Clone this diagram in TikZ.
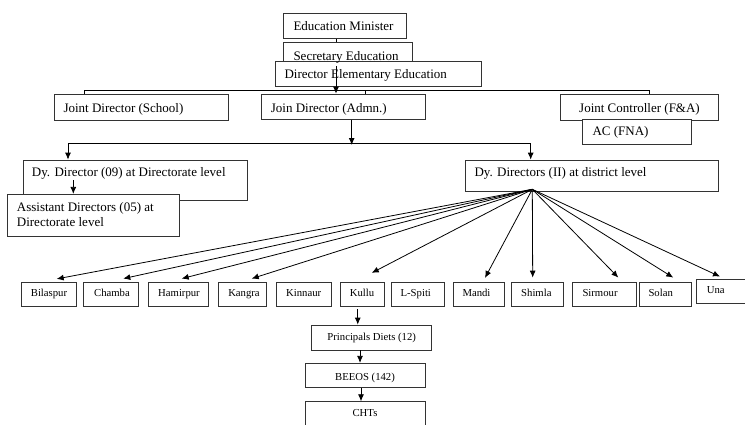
\documentclass[tikz,border=0pt]{standalone}
\usepackage{fontspec}
\setmainfont{Liberation Serif}
\usetikzlibrary{arrows.meta,fit,calc}
\newcommand\bx[5]{\coordinate (#1-a) at (#2,#3); \coordinate (#1-b) at (#4,#5); \node[box, fit=(#1-a)(#1-b)] (#1) {};}
\begin{document}
\begin{tikzpicture}[x=1pt,y=-1pt,
  box/.style={draw=black!80, line width=0.8pt, fill=white, inner sep=0pt},
  big/.style={font=\fontsize{13}{15.7}\selectfont, inner sep=0pt},
  small/.style={font=\fontsize{10.7}{13}\selectfont, inner sep=0pt},
  conn/.style={line width=0.8pt, black},
  arr/.style={conn, -{Latex[length=7pt,width=6pt]}}]
\clip (0,0) rectangle (745,424);
% top hierarchy
\bx{em}{283.3}{13.3}{406.7}{38.3}
\bx{sec}{283}{42.7}{412.7}{66}
\bx{ded}{275.7}{61.7}{481.7}{86}
\bx{jds}{54}{94}{228}{120}
\bx{jda}{261}{94}{425.7}{119.3}
\bx{jc}{560}{94.3}{718.3}{120}
\bx{ac}{582.3}{119.3}{691}{144}
\bx{ddl}{23}{160}{247}{200.7}
\bx{asd}{7.3}{194.3}{179.3}{236.7}
\bx{ddd}{465.7}{160}{718.3}{191.7}
% districts
\bx{bil}{21.7}{282.3}{76.7}{306.7}
\bx{cha}{83.3}{282.3}{138.3}{306.7}
\bx{ham}{148.3}{282.3}{208.3}{306.7}
\bx{kan}{218.3}{282.3}{266.7}{306.7}
\bx{kin}{276}{282.3}{331}{306.7}
\bx{kul}{340.7}{282.3}{384}{306.7}
\bx{lsp}{391.7}{282.3}{444.3}{306.7}
\bx{man}{453.3}{282.3}{504.3}{306.7}
\bx{shi}{511.7}{282.3}{563.3}{306.7}
\bx{sir}{572.7}{282.3}{636}{306.7}
\bx{sol}{639.3}{282.3}{691}{306.7}
\bx{una}{696}{279}{750}{303.3}
\bx{pri}{311}{325}{431.7}{350}
\bx{bee}{305.7}{363.3}{425.7}{387.7}
\bx{cht}{305.7}{401.7}{425.7}{432}
% texts
\node[big, anchor=base west] (em-t) at (293.3,30) {Education Minister};
\node[big, anchor=base west] (sec-t) at (293.3,60) {Secretary Education};
\node[big, anchor=base west] (ded-t) at (284.3,78.7) {Director Elementary Education};
\node[big, anchor=base west] (jds-t) at (63.3,112.3) {Joint Director (School)};
\node[big, anchor=base west] (jda-t) at (270.7,112.3) {Join Director (Admn.)};
\node[big, anchor=base west] (jc-t) at (579,112.3) {Joint Controller (F\&A)};
\node[big, anchor=base west] (ac-t) at (592.3,135) {AC (FNA)};
\node[big, anchor=base west] (ddl-t) at (31.7,176.7) {Dy. Director (09) at Directorate level};
\node[big, anchor=base west] (asd-t1) at (16.7,211) {Assistant Directors (05) at};
\node[big, anchor=base west] (asd-t2) at (16.7,226.7) {Directorate level};
\node[big, anchor=base west] (ddd-t) at (474.3,176.5) {Dy. Directors (II) at district level};
\node[small, anchor=base] (bil-t) at (49,296.7) {Bilaspur};
\node[small, anchor=base] (cha-t) at (112,296.7) {Chamba};
\node[small, anchor=base] (ham-t) at (179,296.7) {Hamirpur};
\node[small, anchor=base] (kan-t) at (244,296.7) {Kangra};
\node[small, anchor=base] (kin-t) at (303.7,296.7) {Kinnaur};
\node[small, anchor=base] (kul-t) at (362,296.7) {Kullu};
\node[small, anchor=base] (lsp-t) at (415.8,296.7) {L-Spiti};
\node[small, anchor=base west] (man-t) at (462.3,296.7) {Mandi};
\node[small, anchor=base west] (shi-t) at (521,296.7) {Shimla};
\node[small, anchor=base west] (sir-t) at (582.3,296.7) {Sirmour};
\node[small, anchor=base west] (sol-t) at (648.3,296.7) {Solan};
\node[small, anchor=base west] (una-t) at (706.7,293.3) {Una};
\node[small, anchor=base] (pri-t) at (371.7,340.7) {Principals Diets (12)};
\node[small, anchor=base] (bee-t) at (365,380) {BEEOS (142)};
\node[small, anchor=base] (cht-t) at (365,416) {CHTs};
% connectors
\coordinate (vx) at (336,0);
\draw[conn] (em.south -| vx) -- (sec.north -| vx);
\draw[arr] (sec.south -| vx) -- (jda.north -| vx);
\coordinate (bL) at (84,90); \coordinate (bM) at (365,90); \coordinate (bR) at (649,90);
\draw[conn] (jds.north -| bL) -- (bL) -- (bR) -- (jc.north -| bR);
\draw[conn] (bM) -- (jda.north -| bM);
\coordinate (hb) at (351.7,145); \coordinate (hL) at (68,143); \coordinate (hR) at (530.7,143);
\draw[arr] (jda.south -| hb) -- (hb);
\draw[conn] (hL) -- (hR);
\draw[arr] (hL) -- (ddl.north -| hL);
\draw[arr] (hR) -- (ddd.north -| hR);
\coordinate (da) at (73.3,180);
\draw[arr] (da) -- (asd.north -| da);
\coordinate (fan) at (532.3,189.3);
\draw[arr] (fan) -- ($(bil.north)+(7.5,-3)$);
\draw[arr] (fan) -- ($(cha.north)+(12.5,-3.3)$);
\draw[arr] (fan) -- ($(ham.north)+(3.4,-3.3)$);
\draw[arr] (fan) -- ($(kan.north)+(9.2,-3.3)$);
\draw[arr] (fan) -- ($(kul.north)+(9.4,-9)$);
\draw[arr] (fan) -- ($(man.north)+(6.2,-4)$);
\draw[arr] (fan) -- ($(shi.north)+(-4.8,-4.3)$);
\draw[arr] (fan) -- ($(sir.north)+(14,-4.3)$);
\draw[arr] (fan) -- ($(sol.north)+(8.1,-4.3)$);
\draw[arr] (fan) -- ($(una.north)+(-3,-2)$);
\coordinate (k1) at ($(kul.south)+(-4.6,2.3)$);
\draw[arr] (k1) -- (pri.north -| k1);
\coordinate (p1) at (360,0);
\draw[arr] (pri.south -| p1) -- (bee.north -| p1);
\coordinate (b1) at (361,0);
\draw[arr] (bee.south -| b1) -- (cht.north -| b1);
\end{tikzpicture}
\end{document}
